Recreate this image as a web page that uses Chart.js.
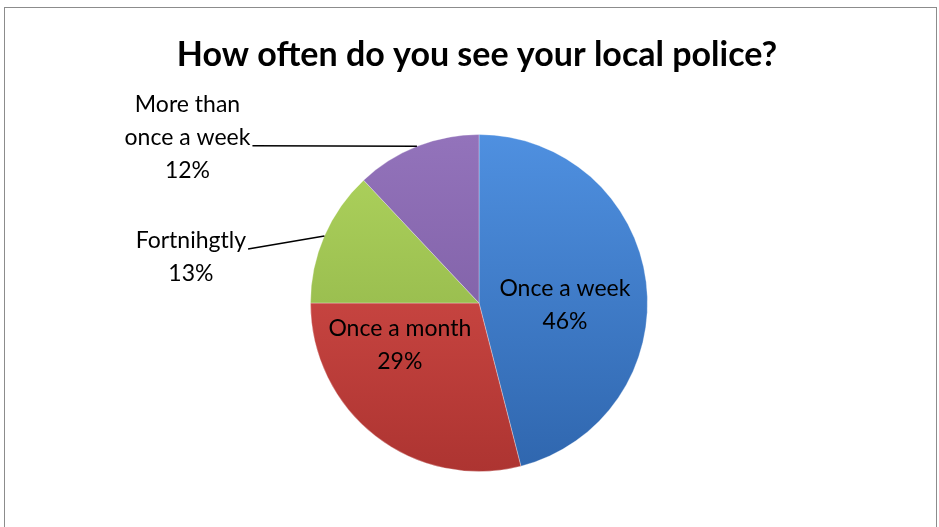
<!DOCTYPE html>
<html>
<head>
<meta charset="utf-8">
<script src="https://cdn.jsdelivr.net/npm/chart.js@4.4.1/dist/chart.umd.min.js"></script>
<style>
  html, body { margin: 0; padding: 0; background: #fff; }
  #wrap { position: relative; width: 939px; height: 527px; }
</style>
</head>
<body>
<div id="wrap"><canvas id="policeChart" width="939" height="527"></canvas></div>
<script>
// Survey answers, clockwise from 12 o'clock
var categories = ['Once a week', 'Once a month', 'Fortnihgtly', 'More than once a week'];
var percents = [46, 29, 13, 12];
var labelLines = [['Once a week'], ['Once a month'], ['Fortnihgtly'], ['More than', 'once a week']];

// top / bottom shade for each slice
var sliceTop = ['#4f90e0', '#de534e', '#b0d55e', '#9373bb'];
var sliceBottom = ['#2f66ae', '#ad3431', '#86a942', '#74559a'];

var FONT = 'Lato, "Open Sans", sans-serif';

// where each label sits, in pie radii from the centre; outside ones get a leader line
var labelSpots = [
    { dx: 0.51, dy: 0.01, inside: true },
    { dx: -0.47, dy: 0.25, inside: true },
    { dx: -1.71, dy: -0.27, inside: false, leaderLine: 0 },
    { dx: -1.73, dy: -0.98, inside: false, leaderLine: 1 }
];

var frameAndLabels = {
    id: 'frameAndLabels',
    beforeDraw: function (chart) {
        var c = chart.ctx;
        c.save();
        c.strokeStyle = '#8c8c8c';
        c.lineWidth = 1;
        c.strokeRect(4.5, 7.5, 932, 540);
        c.fillStyle = '#000';
        c.font = 'bold 34px ' + FONT;
        c.textAlign = 'center';
        c.textBaseline = 'middle';
        c.fillText('How often do you see your local police?', 477, 55);
        c.restore();
    },
    afterDatasetsDraw: function (chart) {
        var c = chart.ctx;
        var meta = chart.getDatasetMeta(0);
        var lineH = 33;
        c.save();
        c.font = '23px ' + FONT;
        c.textBaseline = 'middle';
        c.textAlign = 'center';
        meta.data.forEach(function (arc, i) {
            var p = arc.getProps(['x', 'y', 'startAngle', 'endAngle', 'outerRadius'], true);
            var R = p.outerRadius;
            var spot = labelSpots[i];
            var lines = labelLines[i].concat([percents[i] + '%']);
            var cx = p.x + spot.dx * R;
            var cy = p.y + spot.dy * R;
            var top = cy - (lines.length - 1) * lineH / 2;
            c.fillStyle = '#000';
            lines.forEach(function (t, k) {
                c.fillText(t, cx, top + k * lineH);
            });
            if (!spot.inside) {
                var k = spot.leaderLine;
                var w = c.measureText(lines[k]).width;
                var mid = (p.startAngle + p.endAngle) / 2;
                c.beginPath();
                c.strokeStyle = '#000';
                c.lineWidth = 1.5;
                c.moveTo(cx + w / 2 + 2, top + k * lineH + 8);
                c.lineTo(p.x + R * Math.cos(mid), p.y + R * Math.sin(mid));
                c.stroke();
            }
        });
        c.restore();
    }
};

function sliceFill(ctx) {
    var chart = ctx.chart;
    var area = chart.chartArea;
    var i = ctx.dataIndex;
    if (!area) return sliceTop[i];
    var g = chart.ctx.createLinearGradient(0, area.top, 0, area.bottom);
    g.addColorStop(0, sliceTop[i]);
    g.addColorStop(1, sliceBottom[i]);
    return g;
}

new Chart(document.getElementById('policeChart'), {
    type: 'pie',
    data: {
        labels: categories,
        datasets: [{
            data: percents,
            backgroundColor: sliceFill,
            borderColor: 'rgba(255,255,255,0.3)',
            borderWidth: 1
        }]
    },
    options: {
        responsive: false,
        animation: false,
        layout: { padding: { left: 310, right: 291, top: 134, bottom: 55 } },
        plugins: {
            legend: { display: false },
            tooltip: { enabled: false },
            title: { display: false }
        }
    },
    plugins: [frameAndLabels]
});
</script>
</body>
</html>
